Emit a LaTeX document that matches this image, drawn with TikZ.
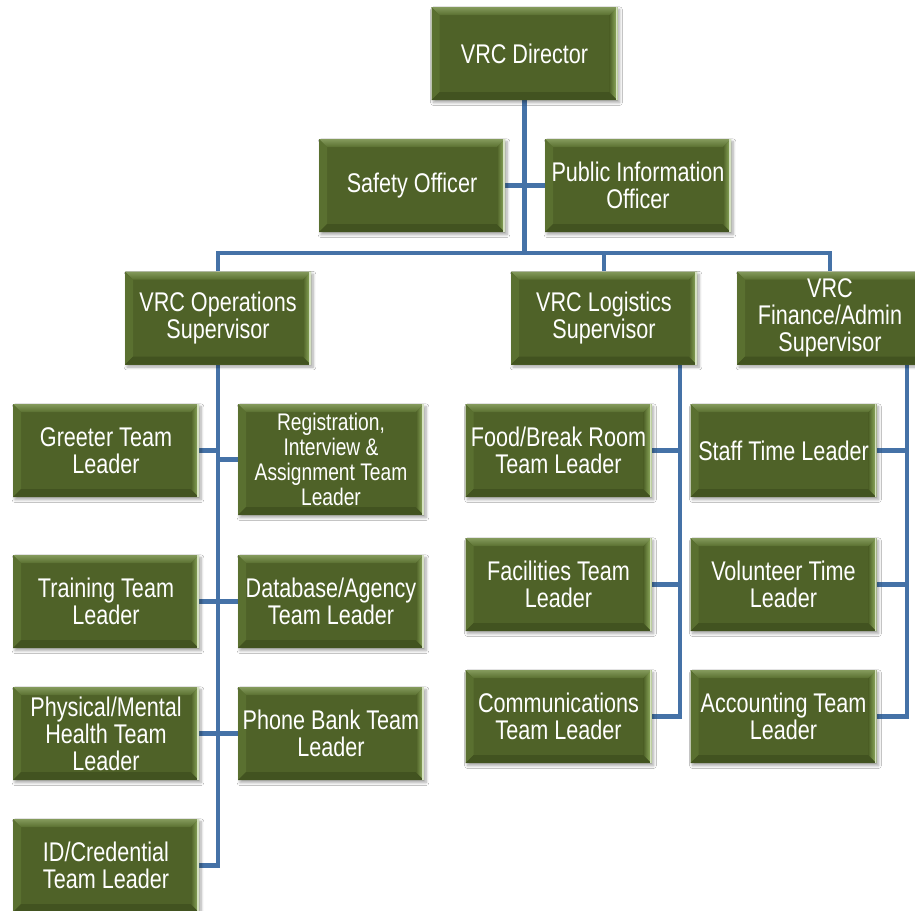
\documentclass[tikz,border=0pt]{standalone}
\usepackage{fontspec}
\setmainfont{Liberation Sans}[FakeStretch=0.80]
\usetikzlibrary{shadows.blur,calc}
\definecolor{boxgreen}{RGB}{79,98,40}
\definecolor{bevtop}{RGB}{132,154,92}
\definecolor{bevleft}{RGB}{90,112,48}
\definecolor{bevbot}{RGB}{66,83,32}
\definecolor{bevright}{RGB}{150,180,100}
\definecolor{linkblue}{RGB}{69,114,167}
\pgfdeclarelayer{bg}\pgfsetlayers{bg,main}
\tikzset{
  orgbox/.style={rectangle, fill=boxgreen, minimum width=139.5pt, minimum height=69.75pt,
    inner sep=0pt, text=white, align=center, font=\fontsize{20.25}{20.25}\selectfont,
    blur shadow={shadow xshift=1.5pt, shadow yshift=-2pt, shadow blur steps=6, shadow opacity=35},
    path picture={
      \path (path picture bounding box.north west) coordinate (pNW)
            (path picture bounding box.north east) coordinate (pNE)
            (path picture bounding box.south west) coordinate (pSW)
            (path picture bounding box.south east) coordinate (pSE);
      \shade[top color=bevtop, bottom color=bevleft] (pNW) -- (pNE) -- ([shift={(-6pt,-6pt)}]pNE) -- ([shift={(6pt,-6pt)}]pNW) -- cycle;
      \fill[bevleft] (pNW) -- ([shift={(6pt,-6pt)}]pNW) -- ([shift={(6pt,6pt)}]pSW) -- (pSW) -- cycle;
      \fill[bevbot] (pSW) -- ([shift={(6pt,6pt)}]pSW) -- ([shift={(-6pt,6pt)}]pSE) -- (pSE) -- cycle;
      \shade[left color=boxgreen, right color=bevright] (pNE) -- (pSE) -- ([shift={(-6pt,6pt)}]pSE) -- ([shift={(-6pt,-6pt)}]pNE) -- cycle;
      \draw[white!60!bevright, line width=1.2pt] ([xshift=-0.6pt]pNE) -- ([xshift=-0.6pt]pSE);
    }},
  link/.style={draw=linkblue, line width=3.6pt}
}
\begin{document}
\begin{tikzpicture}[x=0.75pt,y=-0.75pt]
\useasboundingbox (0,0) rectangle (915,911);
\node[orgbox] (dir) at (524.5,53.5) {VRC Director};
\node[orgbox] (safety) at (412,185.5) {Safety Officer};
\node[orgbox] (pio) at (638,185.5) {Public Information\\Officer};
\node[orgbox] (ops) at (218,318) {VRC Operations\\Supervisor};
\node[orgbox] (log) at (604,318) {VRC Logistics\\Supervisor};
\node[orgbox] (fin) at (830,318) {VRC\\Finance/Admin\\Supervisor};
\node[orgbox] (greet) at (106,450.5) {Greeter Team\\Leader};
\node[orgbox, minimum height=83.25pt, font=\fontsize{18}{18.75}\selectfont] (reg) at (331,459.5) {Registration,\\Interview \&\\Assignment Team\\Leader};
\node[orgbox] (train) at (106,601.5) {Training Team\\Leader};
\node[orgbox] (db) at (331,601.5) {Database/Agency\\Team Leader};
\node[orgbox] (phys) at (106,733.5) {Physical/Mental\\Health Team\\Leader};
\node[orgbox] (phone) at (331,733.5) {Phone Bank Team\\Leader};
\node[orgbox] (idc) at (106,865.5) {ID/Credential\\Team Leader};
\node[orgbox] (food) at (558.5,450.5) {Food/Break Room\\Team Leader};
\node[orgbox] (fac) at (558.5,584.5) {Facilities Team\\Leader};
\node[orgbox] (comm) at (558.5,716.5) {Communications\\Team Leader};
\node[orgbox] (staff) at (783.5,450.5) {Staff Time Leader};
\node[orgbox] (vol) at (783.5,584.5) {Volunteer Time\\Leader};
\node[orgbox] (acct) at (783.5,716.5) {Accounting Team\\Leader};
\begin{pgfonlayer}{bg}
\fill[white] (0,0) rectangle (915,911);
\coordinate (bus) at (524.5,253);
\coordinate (lsp) at (680,318);
\coordinate (fsp) at (907,318);
\draw[link] (dir.south) -- (bus);
\draw[link] (safety.east) -- (safety.east -| bus);
\draw[link] (pio.west) -- (pio.west -| bus);
\draw[link] (ops.north) |- (bus) -| (fin.north);
\draw[link] (log.north) -- (log.north |- bus);
\draw[link] (ops.south) |- (idc.east);
\foreach \n in {greet,train,phys} \draw[link] (\n.east) -- (\n.east -| ops.south);
\foreach \n in {reg,db,phone} \draw[link] (\n.west) -- (\n.west -| ops.south);
\draw[link] (lsp) |- (comm.east);
\foreach \n in {food,fac} \draw[link] (\n.east) -- (\n.east -| lsp);
\draw[link] (fsp) |- (acct.east);
\foreach \n in {staff,vol} \draw[link] (\n.east) -- (\n.east -| fsp);
\end{pgfonlayer}
\end{tikzpicture}
\end{document}
